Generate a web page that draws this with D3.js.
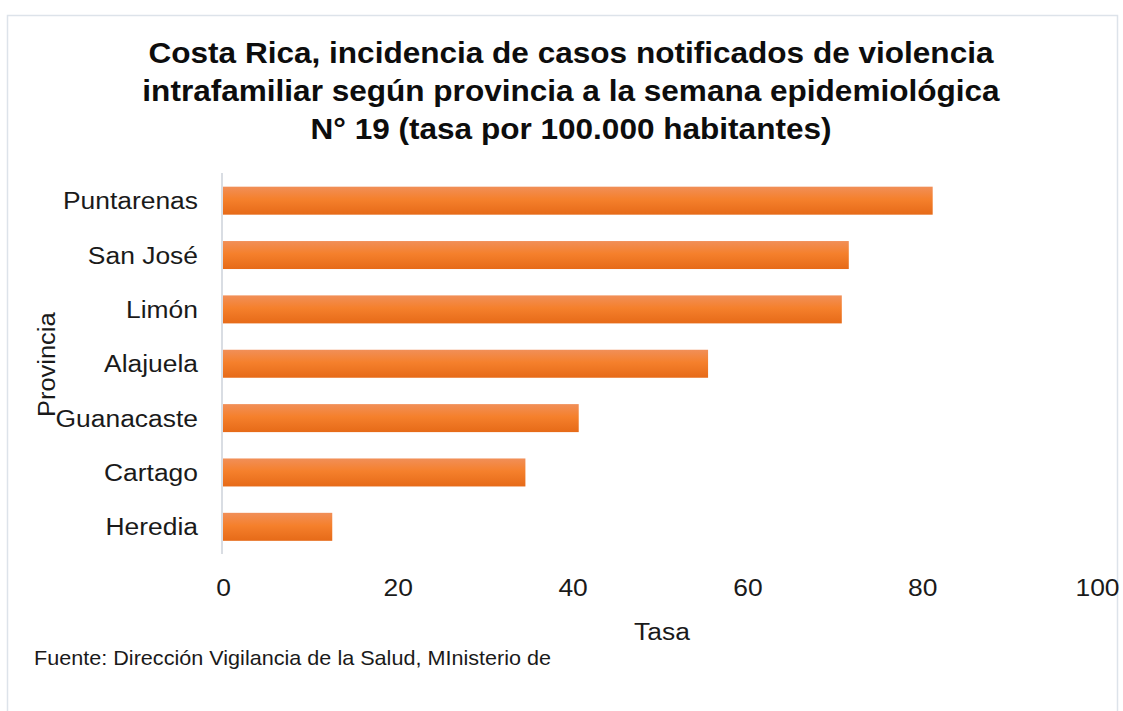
<!DOCTYPE html>
<html><head><meta charset="utf-8">
<script src="https://cdn.jsdelivr.net/npm/d3@7"></script>
<style>body{margin:0;background:#fff;font-family:"Liberation Sans",Arial,sans-serif;}</style>
</head><body>
<svg id="c" width="1123" height="711"></svg>
<script>
const categories = ["Puntarenas","San José","Limón","Alajuela","Guanacaste","Cartago","Heredia"];
const values = [81.2, 71.6, 70.8, 55.5, 40.7, 34.6, 12.5];
const xTicks = [0,20,40,60,80,100];
const titleLines = ["Costa Rica, incidencia de casos notificados de violencia","intrafamiliar según provincia a la semana epidemiológica","N° 19 (tasa por 100.000 habitantes)"];

const SX = 1.07;
const FF = "Liberation Sans, Arial, sans-serif";
const svg = d3.select("#c");
const defs = svg.append("defs");
const g = defs.append("linearGradient").attr("id","bg").attr("x1",0).attr("y1",0).attr("x2",0).attr("y2",1);
g.append("stop").attr("offset","0%").attr("stop-color","#f18f58");
g.append("stop").attr("offset","45%").attr("stop-color","#f5802c");
g.append("stop").attr("offset","100%").attr("stop-color","#e66a18");

// border
svg.append("rect").attr("x",7.5).attr("y",15.5).attr("width",1110).attr("height",720)
  .attr("fill","none").attr("stroke","#dde3ea").attr("stroke-width",1.5);

const x = d3.scaleLinear().domain([0,100]).range([223,1097]);
const y = d3.scaleBand().domain(categories).range([173.5,554]).paddingInner(0.485).paddingOuter(0.2425);

svg.selectAll("rect.bar").data(categories).join("rect").attr("class","bar")
  .attr("x",x(0)).attr("y",d=>y(d)).attr("height",y.bandwidth())
  .attr("width",(d,i)=>x(values[i])-x(0)).attr("fill","url(#bg)");

// axis line
svg.append("line").attr("x1",222).attr("x2",222).attr("y1",173).attr("y2",554)
  .attr("stroke","#d9dde3").attr("stroke-width",2);

// x axis labels
const xa = svg.append("g").attr("transform","translate(0,595.5)").call(d3.axisBottom(x).tickValues(xTicks).tickSize(0).tickPadding(0));
xa.select(".domain").remove();
xa.selectAll("text").attr("font-size",24.7).attr("font-family",FF).attr("fill","#1a1a1a")
  .attr("x",0).attr("y",0).attr("dy",null).attr("transform",`scale(${SX},1)`);

// y axis labels
const ya = svg.append("g").attr("transform","translate(198,0)").call(d3.axisLeft(y).tickSize(0).tickPadding(0));
ya.select(".domain").remove();
ya.selectAll("text").attr("font-size",24.7).attr("font-family",FF).attr("fill","#1a1a1a")
  .attr("x",0).attr("y",0).attr("dy",null).attr("transform",`translate(0,8.5) scale(${SX},1)`);

// title
svg.selectAll("text.title").data(titleLines).join("text").attr("class","title")
  .attr("transform",(d,i)=>`translate(571,${62.5+i*38}) scale(${SX},1)`)
  .attr("text-anchor","middle").attr("font-family",FF)
  .attr("font-size",29.5).attr("font-weight","bold").attr("fill","#0d0d0d").text(d=>d);

svg.append("text").attr("transform",`translate(662,639.5) scale(${SX},1)`).attr("text-anchor","middle")
  .attr("font-family",FF).attr("font-size",24.7).attr("fill","#1a1a1a").text("Tasa");
svg.append("text").attr("transform","translate(54.5,364.7) rotate(-90) scale(1.03,1)").attr("text-anchor","middle")
  .attr("font-family",FF).attr("font-size",24.7).attr("fill","#1a1a1a").text("Provincia");
svg.append("text").attr("transform",`translate(34,665) scale(${SX},1)`)
  .attr("font-family",FF).attr("font-size",20.2).attr("fill","#1a1a1a").text("Fuente: Dirección Vigilancia de la Salud, MInisterio de");
</script>
</body></html>
